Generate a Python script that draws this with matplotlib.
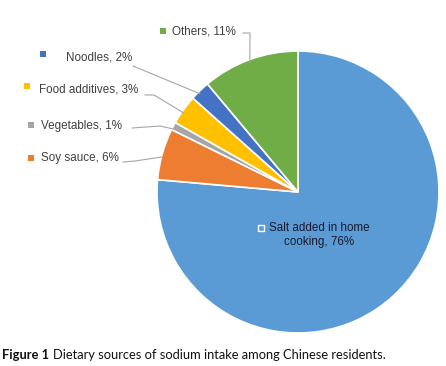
import numpy as np
import matplotlib
matplotlib.use("Agg")
import matplotlib.pyplot as plt

W, H = 446, 366

categories = ["Salt added in home\ncooking", "Soy sauce", "Vegetables", "Food additives", "Noodles", "Others"]
values = [76.4, 5.9, 0.9, 3.4, 2.3, 11.1]
labels_pct = ["76%", "6%", "1%", "3%", "2%", "11%"]
colors = ["#5B9BD5", "#ED7D31", "#A5A5A5", "#FFC000", "#4472C4", "#70AD47"]

# pie placement in pixels
cx, cy, r = 298, 192, 141

fig = plt.figure(figsize=(W / 100, H / 100), dpi=100)
fig.patch.set_facecolor("white")
ax = fig.add_axes([(cx - r) / W, (H - cy - r) / H, 2 * r / W, 2 * r / H])
wedges, _ = ax.pie(values, colors=colors, startangle=90, counterclock=False,
                   wedgeprops=dict(edgecolor="white", linewidth=1.2))
ax.set_xlim(-1, 1)
ax.set_ylim(-1, 1)

ov = fig.add_axes([0, 0, 1, 1], facecolor="none")
ov.set_xlim(0, W)
ov.set_ylim(H, 0)
ov.axis("off")

txt = "#404040"
lc = "#A6A6A6"

# label layout: marker pos, text pos, leader path start points
layout = {
    "Others": dict(m=(163, 31), t=(172, 32), path=[(243, 33), (250, 33)]),
    "Noodles": dict(m=(43, 54), t=(66, 58), path=[(133, 66)]),
    "Food additives": dict(m=(27, 86), t=(39, 89), path=[(145, 95), (154, 95)]),
    "Vegetables": dict(m=(31, 125), t=(41, 126), path=[(132, 128), (160, 126)]),
    "Soy sauce": dict(m=(31, 158), t=(41, 158), path=[(123, 162), (135, 161)]),
}

for w, name, pct, col in zip(wedges, categories, labels_pct, colors):
    mid = np.deg2rad((w.theta1 + w.theta2) / 2)
    ex, ey = cx + r * np.cos(mid), cy - r * np.sin(mid)
    if name in layout:
        L = layout[name]
        ov.scatter([L["m"][0]], [L["m"][1]], marker="s", s=14, color=col, linewidths=0)
        ov.text(L["t"][0], L["t"][1], f"{name}, {pct}", fontsize=8.4, color=txt,
                family="Liberation Sans", va="center", ha="left")
        xs = [p[0] for p in L["path"]] + [ex]
        ys = [p[1] for p in L["path"]] + [ey + 3]
        ov.plot(xs, ys, color=lc, lw=0.8)
    else:
        ov.scatter([261], [228], marker="s", s=16, facecolor=col, edgecolor="white", linewidths=1)
        ov.text(319, 235, f"{name}, {pct}", fontsize=8.4, color="#1A1A2E",
                family="Liberation Sans", va="center", ha="center", linespacing=1.25)

# caption
t1 = fig.text(2 / W, 1 - 355 / H, "Figure 1", fontsize=9.25, fontweight="bold",
              family="Lato", va="center", ha="left", color="#111111")
fig.canvas.draw()
bb = t1.get_window_extent(fig.canvas.get_renderer())
fig.text((bb.x1 + 4) / W, 1 - 355 / H, "Dietary sources of sodium intake among Chinese residents.",
         fontsize=9.25, family="Lato", va="center", ha="left", color="#111111")

fig.savefig("out.png", dpi=100, facecolor="white")
